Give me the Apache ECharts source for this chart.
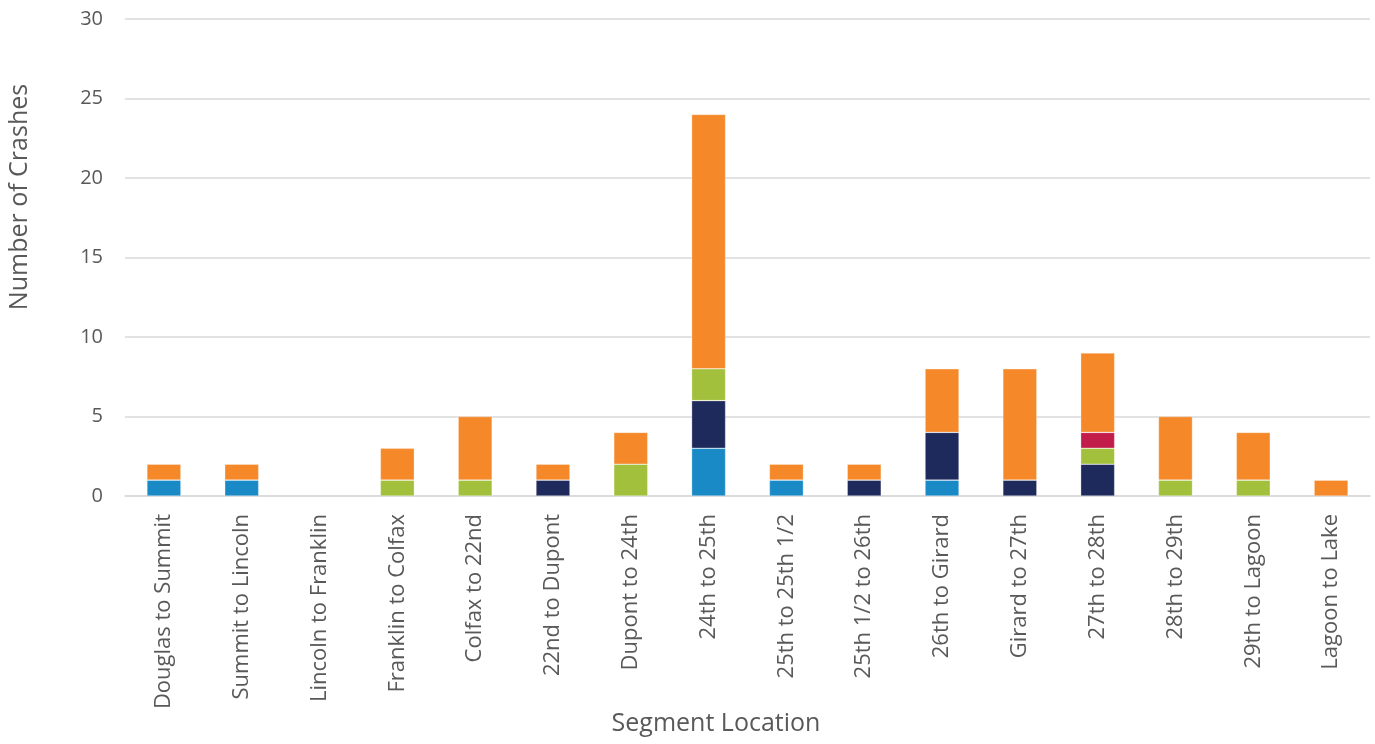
<!DOCTYPE html>
<html>
<head>
<meta charset="utf-8">
<script src="https://cdn.jsdelivr.net/npm/echarts@6/dist/echarts.min.js"></script>
<style>
    html, body { margin: 0; padding: 0; background: #fff; }
    #chart { width: 1375px; height: 744px; }
</style>
</head>
<body>
<div id="chart"></div>
<script>
// 路段名称
var categories = ["Douglas to Summit", "Summit to Lincoln", "Lincoln to Franklin", "Franklin to Colfax",
    "Colfax to 22nd", "22nd to Dupont", "Dupont to 24th", "24th to 25th", "25th to 25th 1/2",
    "25th 1/2 to 26th", "26th to Girard", "Girard to 27th", "27th to 28th", "28th to 29th",
    "29th to Lagoon", "Lagoon to Lake"];
// 各类型事故数 (自下而上堆叠)
var blueData   = [1, 1, 0, 0, 0, 0, 0, 3, 1, 0, 1, 0, 0, 0, 0, 0];
var navyData   = [0, 0, 0, 0, 0, 1, 0, 3, 0, 1, 3, 1, 2, 0, 0, 0];
var greenData  = [0, 0, 0, 1, 1, 0, 2, 2, 0, 0, 0, 0, 1, 1, 1, 0];
var redData    = [0, 0, 0, 0, 0, 0, 0, 0, 0, 0, 0, 0, 1, 0, 0, 0];
var orangeData = [1, 1, 0, 2, 4, 1, 2, 16, 1, 1, 4, 7, 5, 4, 3, 1];
var yTicks = [0, 5, 10, 15, 20, 25, 30];

(function () {
    var myChart = echarts.init(document.getElementById("chart"));
    var font = "'Open Sans', sans-serif";
    function bar(name, data, color) {
        return {
            name: name,
            type: 'bar',
            stack: 'total',
            barWidth: 34,
            // 0 值不画
            data: data.map(function (v) { return v === 0 ? '-' : v; }),
            itemStyle: {
                color: color,
                borderColor: 'rgba(255,255,255,0.5)',
                borderWidth: 0.6
            }
        };
    }
    var option = {
        animation: false,
        grid: {
            left: 125,
            right: 5,
            top: 19,
            bottom: 248
        },
        xAxis: {
            type: 'category',
            data: categories,
            axisTick: { show: false },
            axisLine: { lineStyle: { color: '#d9d9d9', width: 1.5 } },
            axisLabel: {
                rotate: 90,
                interval: 0,
                margin: 18,
                color: '#595959',
                fontSize: 22,
                fontFamily: font
            }
        },
        yAxis: {
            type: 'value',
            min: yTicks[0],
            max: yTicks[yTicks.length - 1],
            interval: 5,
            axisLine: { show: false },
            axisTick: { show: false },
            axisLabel: {
                margin: 22,
                color: '#595959',
                fontSize: 20,
                fontFamily: font
            },
            splitLine: { lineStyle: { color: '#d9d9d9', width: 1.5 } }
        },
        graphic: [
            {
                type: 'text',
                rotation: Math.PI / 2,
                x: 20,
                y: 197,
                style: {
                    text: 'Number of Crashes',
                    fill: '#595959',
                    font: "25px 'Open Sans', sans-serif",
                    textAlign: 'center',
                    textVerticalAlign: 'middle'
                }
            },
            {
                type: 'text',
                x: 716,
                y: 724,
                style: {
                    text: 'Segment Location',
                    fill: '#595959',
                    font: "25px 'Open Sans', sans-serif",
                    textAlign: 'center',
                    textVerticalAlign: 'middle'
                }
            }
        ],
        series: [
            bar('Blue', blueData, '#1a8ac6'),
            bar('Navy', navyData, '#1f2a5c'),
            bar('Green', greenData, '#a2c03b'),
            bar('Red', redData, '#c11c4a'),
            bar('Orange', orangeData, '#f5892a')
        ]
    };
    myChart.setOption(option);
    window.addEventListener('resize', function () {
        myChart.resize();
    });
})();
</script>
</body>
</html>
